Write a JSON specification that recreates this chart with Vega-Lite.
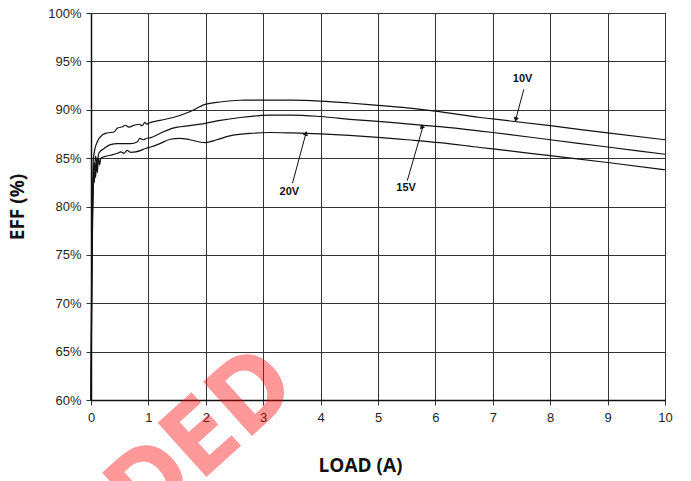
{
  "$schema": "https://vega.github.io/schema/vega-lite/v6.json",
  "width": 574,
  "height": 387,
  "autosize": {"type": "none"},
  "padding": {"left": 91, "top": 13, "right": 26, "bottom": 81},
  "background": "white",
  "config": {
    "view": {"stroke": "#111", "strokeWidth": 1},
    "axis": {
      "labelFont": "Liberation Sans",
      "labelFontSize": 13,
      "labelColor": "#231f20",
      "titleFont": "Open Sans",
      "titleFontSize": 19,
      "titleFontWeight": "bold",
      "titleColor": "#111",
      "gridColor": "#333",
      "gridWidth": 1,
      "gridOpacity": 1,
      "tickColor": "#333",
      "tickSize": 5,
      "domainColor": "#111",
      "domainWidth": 1.5,
      "labelFlush": false
    }
  },
  "datasets": {
    "curves": [
      {"series": "10V", "load": 0, "eff": 60},
      {"series": "10V", "load": 0.01, "eff": 72},
      {"series": "10V", "load": 0.02, "eff": 78},
      {"series": "10V", "load": 0.03, "eff": 82},
      {"series": "10V", "load": 0.04, "eff": 84.8},
      {"series": "10V", "load": 0.07, "eff": 86.0},
      {"series": "10V", "load": 0.11, "eff": 86.7},
      {"series": "10V", "load": 0.2, "eff": 87.4},
      {"series": "10V", "load": 0.28, "eff": 87.6},
      {"series": "10V", "load": 0.4, "eff": 87.7},
      {"series": "10V", "load": 0.46, "eff": 88.1},
      {"series": "10V", "load": 0.55, "eff": 88.25},
      {"series": "10V", "load": 0.6, "eff": 88.4},
      {"series": "10V", "load": 0.66, "eff": 88.2},
      {"series": "10V", "load": 0.75, "eff": 88.4},
      {"series": "10V", "load": 0.84, "eff": 88.5},
      {"series": "10V", "load": 0.89, "eff": 88.35},
      {"series": "10V", "load": 0.94, "eff": 88.7},
      {"series": "10V", "load": 0.97, "eff": 88.5},
      {"series": "10V", "load": 1.0, "eff": 88.6},
      {"series": "10V", "load": 1.2, "eff": 88.9},
      {"series": "10V", "load": 1.43, "eff": 89.2},
      {"series": "10V", "load": 1.72, "eff": 89.8},
      {"series": "10V", "load": 1.99, "eff": 90.55},
      {"series": "10V", "load": 2.25, "eff": 90.8},
      {"series": "10V", "load": 2.6, "eff": 90.98},
      {"series": "10V", "load": 3.12, "eff": 91.0},
      {"series": "10V", "load": 3.5, "eff": 91.0},
      {"series": "10V", "load": 4, "eff": 90.9},
      {"series": "10V", "load": 4.5, "eff": 90.7},
      {"series": "10V", "load": 5, "eff": 90.45},
      {"series": "10V", "load": 5.5, "eff": 90.2},
      {"series": "10V", "load": 6, "eff": 89.85},
      {"series": "10V", "load": 6.78, "eff": 89.2},
      {"series": "10V", "load": 7, "eff": 89.05},
      {"series": "10V", "load": 8, "eff": 88.35},
      {"series": "10V", "load": 9, "eff": 87.6},
      {"series": "10V", "load": 10, "eff": 86.9},

      {"series": "15V", "load": 0, "eff": 60},
      {"series": "15V", "load": 0.01, "eff": 70},
      {"series": "15V", "load": 0.02, "eff": 77},
      {"series": "15V", "load": 0.03, "eff": 81},
      {"series": "15V", "load": 0.04, "eff": 83},
      {"series": "15V", "load": 0.05, "eff": 84.5},
      {"series": "15V", "load": 0.06, "eff": 83.8},
      {"series": "15V", "load": 0.08, "eff": 85.2},
      {"series": "15V", "load": 0.1, "eff": 84.6},
      {"series": "15V", "load": 0.14, "eff": 85.55},
      {"series": "15V", "load": 0.23, "eff": 86.0},
      {"series": "15V", "load": 0.34, "eff": 86.4},
      {"series": "15V", "load": 0.46, "eff": 86.5},
      {"series": "15V", "load": 0.69, "eff": 86.5},
      {"series": "15V", "load": 0.81, "eff": 86.7},
      {"series": "15V", "load": 0.85, "eff": 87.05},
      {"series": "15V", "load": 0.91, "eff": 86.9},
      {"series": "15V", "load": 0.97, "eff": 87.05},
      {"series": "15V", "load": 1.03, "eff": 87.1},
      {"series": "15V", "load": 1.2, "eff": 87.55},
      {"series": "15V", "load": 1.43, "eff": 88.1},
      {"series": "15V", "load": 1.72, "eff": 88.35},
      {"series": "15V", "load": 1.99, "eff": 88.6},
      {"series": "15V", "load": 2.25, "eff": 88.9},
      {"series": "15V", "load": 2.6, "eff": 89.2},
      {"series": "15V", "load": 2.94, "eff": 89.4},
      {"series": "15V", "load": 3.12, "eff": 89.45},
      {"series": "15V", "load": 3.5, "eff": 89.45},
      {"series": "15V", "load": 4, "eff": 89.3},
      {"series": "15V", "load": 4.63, "eff": 88.95},
      {"series": "15V", "load": 5, "eff": 88.8},
      {"series": "15V", "load": 5.5, "eff": 88.55},
      {"series": "15V", "load": 6.08, "eff": 88.25},
      {"series": "15V", "load": 6.78, "eff": 87.8},
      {"series": "15V", "load": 7, "eff": 87.65},
      {"series": "15V", "load": 8, "eff": 86.9},
      {"series": "15V", "load": 9, "eff": 86.15},
      {"series": "15V", "load": 10, "eff": 85.4},

      {"series": "20V", "load": 0, "eff": 60},
      {"series": "20V", "load": 0.01, "eff": 68},
      {"series": "20V", "load": 0.02, "eff": 75},
      {"series": "20V", "load": 0.03, "eff": 79},
      {"series": "20V", "load": 0.04, "eff": 82},
      {"series": "20V", "load": 0.05, "eff": 83.5},
      {"series": "20V", "load": 0.06, "eff": 82.5},
      {"series": "20V", "load": 0.07, "eff": 84.5},
      {"series": "20V", "load": 0.08, "eff": 83.0},
      {"series": "20V", "load": 0.1, "eff": 84.8},
      {"series": "20V", "load": 0.11, "eff": 83.5},
      {"series": "20V", "load": 0.13, "eff": 85.0},
      {"series": "20V", "load": 0.15, "eff": 84.3},
      {"series": "20V", "load": 0.17, "eff": 85.0},
      {"series": "20V", "load": 0.23, "eff": 85.15},
      {"series": "20V", "load": 0.34, "eff": 85.3},
      {"series": "20V", "load": 0.46, "eff": 85.5},
      {"series": "20V", "load": 0.52, "eff": 85.65},
      {"series": "20V", "load": 0.57, "eff": 85.5},
      {"series": "20V", "load": 0.63, "eff": 85.8},
      {"series": "20V", "load": 0.69, "eff": 85.6},
      {"series": "20V", "load": 0.78, "eff": 85.65},
      {"series": "20V", "load": 0.87, "eff": 85.8},
      {"series": "20V", "load": 0.95, "eff": 86.0},
      {"series": "20V", "load": 1.04, "eff": 86.15},
      {"series": "20V", "load": 1.2, "eff": 86.5},
      {"series": "20V", "load": 1.38, "eff": 86.95},
      {"series": "20V", "load": 1.55, "eff": 87.05},
      {"series": "20V", "load": 1.72, "eff": 86.9},
      {"series": "20V", "load": 1.99, "eff": 86.6},
      {"series": "20V", "load": 2.19, "eff": 86.9},
      {"series": "20V", "load": 2.42, "eff": 87.3},
      {"series": "20V", "load": 2.77, "eff": 87.55},
      {"series": "20V", "load": 3.12, "eff": 87.65},
      {"series": "20V", "load": 3.5, "eff": 87.6},
      {"series": "20V", "load": 4, "eff": 87.5},
      {"series": "20V", "load": 5, "eff": 87.15},
      {"series": "20V", "load": 5.5, "eff": 86.9},
      {"series": "20V", "load": 6.08, "eff": 86.6},
      {"series": "20V", "load": 6.78, "eff": 86.1},
      {"series": "20V", "load": 7, "eff": 85.95},
      {"series": "20V", "load": 8, "eff": 85.25},
      {"series": "20V", "load": 9, "eff": 84.55},
      {"series": "20V", "load": 10, "eff": 83.8}
    ],
    "notes": [
      {"label": "10V", "lx": 7.52, "ly": 93.15, "x0": 7.54, "y0": 92.1, "x1": 7.4, "y1": 89.0},
      {"label": "15V", "lx": 5.49, "ly": 81.88, "x0": 5.51, "y0": 82.67, "x1": 5.78, "y1": 88.19},
      {"label": "20V", "lx": 3.455, "ly": 81.53, "x0": 3.51, "y0": 82.4, "x1": 3.745, "y1": 87.57}
    ],
    "mark": [
      {"text": "DED", "mx": 1.95, "my": 55.9}
    ]
  },
  "layer": [
    {
      "data": {"name": "curves"},
      "mark": {"type": "line", "interpolate": "monotone", "color": "#111", "strokeWidth": 1.2},
      "encoding": {
        "x": {
          "field": "load", "type": "quantitative",
          "scale": {"domain": [0, 10], "nice": false, "zero": false},
          "axis": {
            "values": [0, 1, 2, 3, 4, 5, 6, 7, 8, 9, 10],
            "format": "d",
            "title": "LOAD (A)",
            "titlePadding": 32,
            "titleX": 269,
            "labelPadding": 6
          }
        },
        "y": {
          "field": "eff", "type": "quantitative",
          "scale": {"domain": [60, 100], "nice": false, "zero": false},
          "axis": {
            "values": [60, 65, 70, 75, 80, 85, 90, 95, 100],
            "labelExpr": "datum.value + '%'",
            "title": "EFF (%)",
            "titlePadding": 20,
            "labelPadding": 5
          }
        },
        "detail": {"field": "series", "type": "nominal"}
      }
    },
    {
      "data": {"name": "notes"},
      "mark": {"type": "rule", "color": "#111", "strokeWidth": 1},
      "encoding": {
        "x": {"field": "x0", "type": "quantitative"},
        "y": {"field": "y0", "type": "quantitative"},
        "x2": {"field": "x1"},
        "y2": {"field": "y1"}
      }
    },
    {
      "data": {"name": "notes"},
      "mark": {"type": "point", "shape": "triangle-up", "filled": true, "color": "#111", "opacity": 1, "size": 28},
      "encoding": {
        "x": {"field": "x1", "type": "quantitative"},
        "y": {"field": "y1", "type": "quantitative"},
        "angle": {"field": "label", "type": "nominal", "scale": {"domain": ["10V", "15V", "20V"], "range": [195, 16, 15]}, "legend": null}
      }
    },
    {
      "data": {"name": "notes"},
      "mark": {"type": "text", "font": "Liberation Sans", "fontWeight": "bold", "fontSize": 11, "color": "#111", "baseline": "middle", "align": "center"},
      "encoding": {
        "x": {"field": "lx", "type": "quantitative"},
        "y": {"field": "ly", "type": "quantitative"},
        "text": {"field": "label"}
      }
    },
    {
      "data": {"name": "mark"},
      "mark": {"type": "text", "font": "DejaVu Sans Condensed", "fontWeight": "bold", "fontSize": 100, "angle": -42, "color": "#ff0000", "opacity": 0.4, "baseline": "middle", "align": "center"},
      "encoding": {
        "x": {"field": "mx", "type": "quantitative"},
        "y": {"field": "my", "type": "quantitative"},
        "text": {"field": "text"}
      }
    }
  ]
}
